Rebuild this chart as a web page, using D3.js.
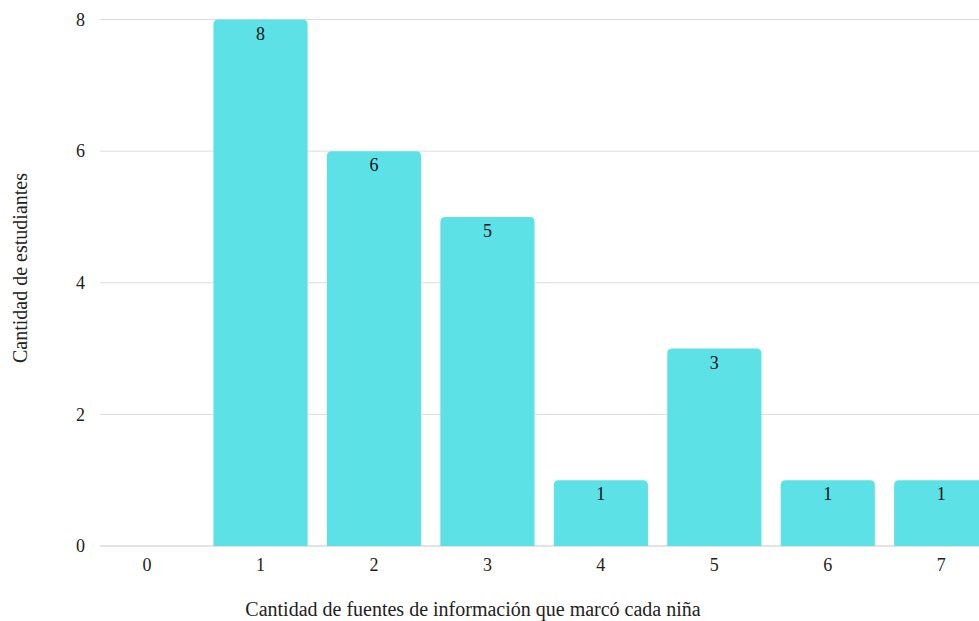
<!DOCTYPE html>
<html><head><meta charset="utf-8">
<script src="https://cdn.jsdelivr.net/npm/d3@7"></script>
<style>html,body{margin:0;padding:0;background:#fff;overflow:hidden}
svg text{font-family:"Liberation Serif","Times New Roman",Times,serif;}</style>
</head><body>
<svg id="c" width="979" height="621"></svg>
<script>
const categories = ["0","1","2","3","4","5","6","7"];
const values = [0, 8, 6, 5, 1, 3, 1, 1];
const yTicks = [0, 2, 4, 6, 8];
const xTitle = "Cantidad de fuentes de información que marcó cada niña";
const yTitle = "Cantidad de estudiantes";

const svg = d3.select("#c");
const x = d3.scaleBand().domain(categories).range([100, 988.3]).paddingInner(0.17).paddingOuter(0);
const y = d3.scaleLinear().domain([0, 8]).range([546, 19.5]);

svg.append("g").selectAll("line").data(yTicks).join("line")
  .attr("x1", 100).attr("x2", 979)
  .attr("y1", d => y(d)).attr("y2", d => y(d))
  .attr("stroke", d => d === 0 ? "#c8c8c8" : "#dcdcdc").attr("stroke-width", 1);

svg.append("g").selectAll("text").data(yTicks).join("text")
  .attr("x", 85).attr("y", d => y(d)).attr("dy", "0.35em")
  .attr("text-anchor", "end").attr("font-size", 18).attr("fill", "#222")
  .text(d => d);

const r = 5;
function barPath(d, i) {
  const x0 = x(categories[i]), w = x.bandwidth(), y0 = y(d), y1 = y(0);
  if (d <= 0) return "";
  return `M${x0},${y1}V${y0 + r}Q${x0},${y0} ${x0 + r},${y0}H${x0 + w - r}Q${x0 + w},${y0} ${x0 + w},${y0 + r}V${y1}Z`;
}
svg.append("g").selectAll("path").data(values).join("path")
  .attr("d", barPath).attr("fill", "#5ce1e6");

svg.append("g").selectAll("text").data(values.map((v, i) => ({v, c: categories[i]})).filter(d => d.v > 0)).join("text")
  .attr("x", d => x(d.c) + x.bandwidth() / 2).attr("y", d => y(d.v) + 14).attr("dy", "0.35em")
  .attr("text-anchor", "middle").attr("font-size", 18).attr("fill", "#111")
  .text(d => d.v);

svg.append("g").selectAll("text").data(categories).join("text")
  .attr("x", d => x(d) + x.bandwidth() / 2).attr("y", 565).attr("dy", "0.35em")
  .attr("text-anchor", "middle").attr("font-size", 18).attr("fill", "#222")
  .text(d => d);

svg.append("text").attr("x", 473).attr("y", 609).attr("dy", "0.35em")
  .attr("text-anchor", "middle").attr("font-size", 20).attr("fill", "#222")
  .text(xTitle);
svg.append("text").attr("transform", "translate(20,268) rotate(-90)").attr("dy", "0.35em")
  .attr("text-anchor", "middle").attr("font-size", 20).attr("fill", "#222")
  .text(yTitle);
</script>
</body></html>
